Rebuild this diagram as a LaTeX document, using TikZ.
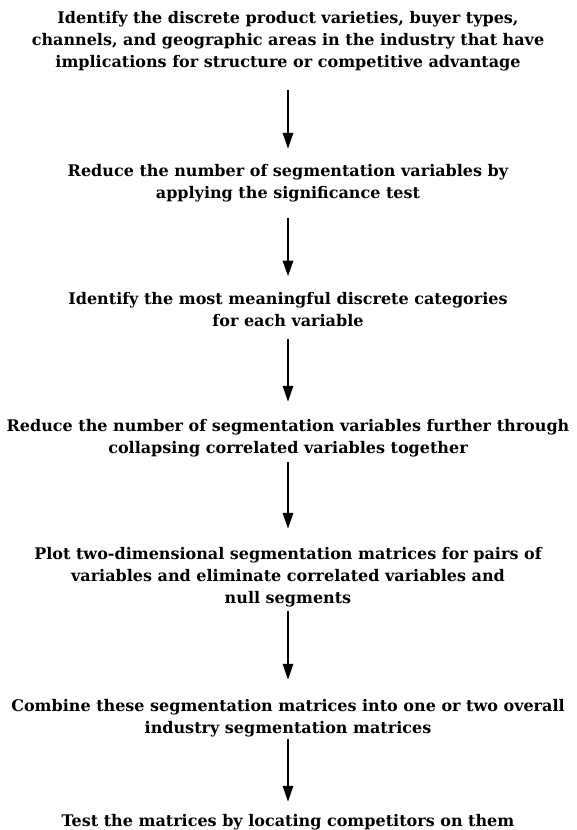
\documentclass[tikz,border=0pt]{standalone}
\usepackage{fontspec}
\setmainfont{DejaVu Serif}
\usetikzlibrary{arrows.meta,positioning}

\tikzset{
  stagebox/.style={font=\bfseries\fontsize{16}{22}\selectfont,align=center,inner sep=0pt},
  flowarrow/.style={line width=2.8pt,-{Triangle[length=16pt,width=10pt]}}
}

\begin{document}
\begin{tikzpicture}[x=1pt,y=1pt]
  \useasboundingbox (0,0) rectangle (576,830);
  % stages, top to bottom
  \node[stagebox] (s1) at (288,789) {Identify the discrete product varieties, buyer types,\\channels, and geographic areas in the industry that have\\implications for structure or competitive advantage};
  \node[stagebox] (s2) at (288,647) {Reduce the number of segmentation variables by\\applying the significance test};
  \node[stagebox] (s3) at (288,520) {Identify the most meaningful discrete categories\\for each variable};
  \node[stagebox] (s4) at (288,392) {Reduce the number of segmentation variables further through\\collapsing correlated variables together};
  \node[stagebox] (s5) at (288,253) {Plot two-dimensional segmentation matrices for pairs of\\variables and eliminate correlated variables and\\null segments};
  \node[stagebox] (s6) at (288,112) {Combine these segmentation matrices into one or two overall\\industry segmentation matrices};
  \node[stagebox] (s7) at (288,8) {Test the matrices by locating competitors on them};
  % arrows: from / to / gap at start / gap at tip
  \foreach \a/\b/\gs/\ge in {s1/s2/19/15, s2/s3/16/16, s3/s4/12/17, s4/s5/5/18, s5/s6/4/19, s6/s7/2/12}
    \draw[flowarrow,shorten <=\gs pt,shorten >=\ge pt] (\a) -- (\b);
\end{tikzpicture}
\end{document}
